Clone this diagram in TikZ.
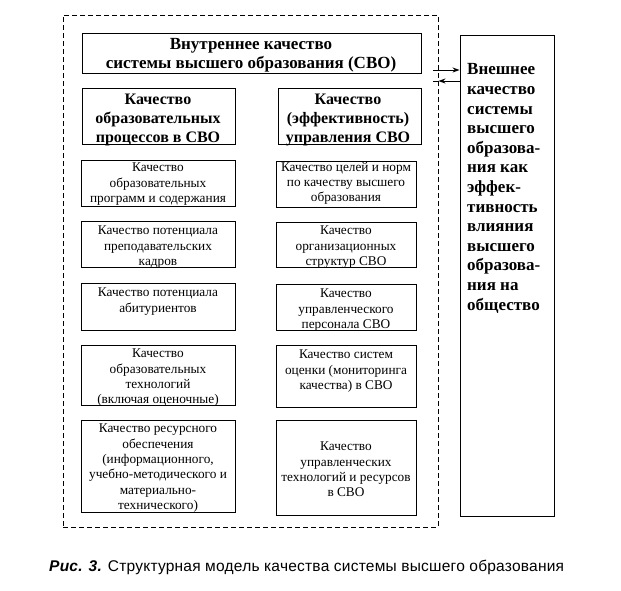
\documentclass[tikz,border=0pt]{standalone}
\usepackage{fontspec}
\setmainfont{Liberation Serif}
\newfontfamily\capfont[LetterSpace=1.5]{Liberation Sans}
\usetikzlibrary{arrows.meta}
\tikzset{
  bx/.style={draw, line width=0.9pt, inner sep=0pt, rectangle},
  body/.style={align=center, inner sep=0pt, anchor=north, font=\fontsize{13.3}{15.3}\selectfont},
  head/.style={align=center, inner sep=0pt, anchor=north, font=\fontsize{16}{18.7}\selectfont\bfseries},
  arr/.style={line width=0.9pt, -{Stealth[length=7pt,width=5pt]}},
  ln/.style={line width=0.9pt}
}
\begin{document}
\begin{tikzpicture}[x=1pt,y=-1pt]
\useasboundingbox (0,0) rectangle (621,590);
% outer dashed box
\node[bx, dash pattern=on 5pt off 3pt, minimum width=375pt, minimum height=512pt] (outer) at (250.5,271) {};
% top box
\node[bx, minimum width=339pt, minimum height=40pt] (top) at (251.5,53) {};
\node[head, font=\fontsize{17}{19}\selectfont\bfseries] (toptext) at (251,38.5) {Внутреннее качество\\системы высшего образования (СВО)};
% headers
\node[bx, minimum width=153pt, minimum height=56pt] (lh) at (158.5,116) {};
\node[head] (lhtext) at (158,94) {Качество\\образовательных\\процессов в СВО};
\node[bx, minimum width=143pt, minimum height=56pt] (rh) at (349.5,116) {};
\node[head] (rhtext) at (348,94) {Качество\\(эффективность)\\управления СВО};
% left column
\node[bx, minimum width=154pt, minimum height=46pt] (l1) at (158,183) {};
\node[body] (l1t) at (158,163) {Качество\\образовательных\\программ и содержания};
\node[bx, minimum width=154pt, minimum height=46pt] (l2) at (158,244) {};
\node[body] (l2t) at (158,226) {Качество потенциала\\преподавательских\\кадров};
\node[bx, minimum width=154pt, minimum height=47pt] (l3) at (158,306.5) {};
\node[body] (l3t) at (158,288) {Качество потенциала\\абитуриентов};
\node[bx, minimum width=154pt, minimum height=60pt] (l4) at (158,375) {};
\node[body] (l4t) at (158,349) {Качество\\образовательных\\технологий\\(включая оценочные)};
\node[bx, minimum width=154pt, minimum height=92pt] (l5) at (158,466) {};
\node[body] (l5t) at (158,424) {Качество ресурсного\\обеспечения\\(информационного,\\учебно-методического и\\материально-\\технического)};
% right column
\node[bx, minimum width=140pt, minimum height=46pt] (r1) at (346,184) {};
\node[body] (r1t) at (346,162) {Качество целей и норм\\по качеству высшего\\образования};
\node[bx, minimum width=140pt, minimum height=45pt] (r2) at (346,244.5) {};
\node[body] (r2t) at (346,226) {Качество\\организационных\\структур СВО};
\node[bx, minimum width=140pt, minimum height=46pt] (r3) at (346,307) {};
\node[body] (r3t) at (346,289) {Качество\\управленческого\\персонала СВО};
\node[bx, minimum width=140pt, minimum height=62pt] (r4) at (346,376) {};
\node[body] (r4t) at (346,350) {Качество систем\\оценки (мониторинга\\качества) в СВО};
\node[bx, minimum width=140pt, minimum height=95pt] (r5) at (346,467.5) {};
\node[body] (r5t) at (346,442) {Качество\\управленческих\\технологий и ресурсов\\в СВО};
% right box
\node[bx, minimum width=94pt, minimum height=481pt] (right) at (507,275.5) {};
\node[align=left, inner sep=0pt, anchor=north west, font=\fontsize{17}{19.6}\selectfont\bfseries] (righttext) at (467,63.5) {Внешнее\\качество\\системы\\высшего\\образова-\\ния как\\эффек-\\тивность\\влияния\\высшего\\образова-\\ния на\\общество};
% connectors
\coordinate (a1) at (433,70);
\coordinate (a2) at (433,81);
\draw[arr] (a1) -- (a1 -| right.west);
\draw[arr] (a2 -| right.west) -- (a2 -| outer.east);
\draw[ln] (a2 -| outer.east) -- (a2);
% caption
\node[anchor=base west, inner sep=0pt, font=\capfont\fontsize{15.5}{17}\selectfont] (cap) at (49,571) {{\bfseries\itshape Рис. 3.} Структурная модель качества системы высшего образования};
\end{tikzpicture}
\end{document}
